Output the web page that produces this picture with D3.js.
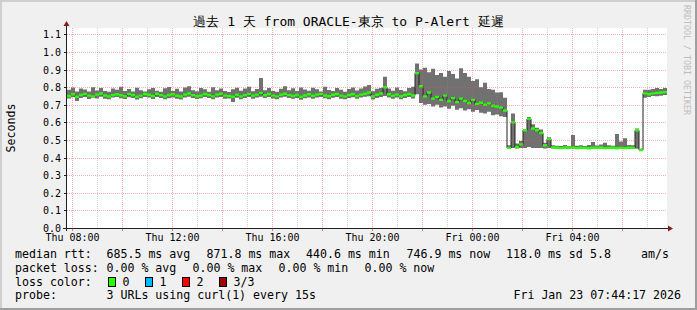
<!DOCTYPE html>
<html>
<head>
<meta charset="utf-8">
<script src="https://cdn.jsdelivr.net/npm/d3@7"></script>
<style>
  body { margin: 0; background: #fff; }
  svg { display: block; }
  text { font-family: "DejaVu Sans Mono", monospace; fill: #000; }
</style>
</head>
<body>
<div id="chart"></div>
<script>
// one value every 9.6 min, 150 columns over the 24 h window (ms)
const medianMs = [
  750,760,746,756,762,752,748,758,764,753,
  747,755,760,754,749,762,756,746,752,761,
  757,750,763,755,748,756,760,751,747,758,
  764,755,749,753,761,756,748,758,763,752,
  750,746,757,748,755,762,751,758,768,754,
  761,752,748,757,763,755,750,756,746,753,
  760,751,758,762,753,749,757,761,752,748,
  756,760,750,758,763,770,747,757,764,800,
  760,751,758,749,756,761,753,880,805,748,
  770,735,745,728,752,722,738,715,735,722,
  710,728,705,712,700,708,695,690,684,668,
  455,600,460,475,555,620,565,555,540,470,
  505,458,456,454,457,455,458,454,456,455,
  453,456,455,457,454,455,456,453,455,454,
  456,455,555,443,765,760,765,768,770,772
];
const maxMs = [
  785,798,776,793,787,775,800,781,795,778,
  774,792,786,803,779,790,776,797,783,775,
  789,796,780,774,794,801,779,791,776,799,
  805,783,777,795,788,774,800,782,793,779,
  773,788,797,780,792,803,777,790,852,783,
  795,779,774,791,806,782,794,778,799,787,
  780,797,788,776,802,784,778,795,786,774,
  790,799,781,793,804,812,777,791,796,860,
  793,780,798,784,777,795,803,935,900,910,
  885,905,870,880,860,892,875,850,908,880,
  860,835,845,800,825,790,785,770,772,740,
  470,650,480,495,560,630,590,570,560,485,
  515,470,468,466,472,465,528,468,470,466,
  472,488,469,474,485,470,468,534,492,510,
  472,470,565,450,785,785,790,795,790,795
];
const minMs = [
  736,743,722,738,745,733,740,736,746,735,
  731,741,744,737,733,743,738,730,737,744,
  741,733,745,738,731,737,742,735,730,741,
  746,738,733,737,744,739,731,741,745,735,
  736,716,740,732,739,745,734,742,746,738,
  744,736,731,741,746,738,735,739,729,737,
  742,734,741,745,737,732,740,744,735,731,
  739,743,734,741,746,748,730,739,744,750,
  742,734,741,732,739,744,736,760,710,700,
  705,690,700,685,690,678,695,672,680,668,
  675,660,670,655,650,660,640,645,635,630,
  450,455,452,455,455,460,455,455,455,452,
  455,452,451,450,452,451,452,450,451,452,
  450,452,451,452,450,451,452,450,451,450,
  452,451,450,437,740,745,750,748,752,755
];
const yTicks = [0,0.1,0.2,0.3,0.4,0.5,0.6,0.7,0.8,0.9,1.0,1.1];

const lossLabels = ["0", "1", "2", "3/3"];
const lossColors = ["#26ff00", "#00b8ff", "#ff0000", "#a00000"];

const titleText = "過去 1 天 from ORACLE-東京 to P-Alert 延遲";

const width = 697, height = 310;
const plot = { left: 67, right: 667, top: 28, bottom: 228 };

const start = new Date(2026, 0, 22, 7, 47, 17);
const end = new Date(2026, 0, 23, 7, 47, 17);
const stepMs = (end - start) / medianMs.length;

const data = medianMs.map((m, i) => ({
  t: new Date(+start + i * stepMs), med: m / 1000, lo: minMs[i] / 1000, hi: maxMs[i] / 1000
}));
// close the last step
data.push({ ...data[data.length - 1], t: end });

const x = d3.scaleTime().domain([start, end]).range([plot.left, plot.right]);
const y = d3.scaleLinear().domain([0, 200 / 176]).range([plot.bottom, plot.top]);

const svg = d3.select("#chart").append("svg")
  .attr("width", width).attr("height", height);

// background + frame
svg.append("rect").attr("width", width).attr("height", height).attr("fill", "#f0f0f0");
svg.append("path").attr("d", `M0,${height} V0 H${width}`).attr("fill", "none")
  .attr("stroke", "#cfcfcf").attr("stroke-width", 4);
svg.append("path").attr("d", `M0,${height} H${width} V0`).attr("fill", "none")
  .attr("stroke", "#9e9e9e").attr("stroke-width", 4);

svg.append("rect")
  .attr("x", plot.left).attr("y", plot.top)
  .attr("width", plot.right - plot.left).attr("height", plot.bottom - plot.top)
  .attr("fill", "#fff");

// smoke (min..max)
svg.append("path").datum(data)
  .attr("d", d3.area().curve(d3.curveStepAfter)
    .x(d => x(d.t)).y0(d => y(d.lo)).y1(d => y(d.hi)))
  .attr("fill", "#717171");

// median line
svg.append("path").datum(data)
  .attr("d", d3.line().curve(d3.curveStepAfter).x(d => x(d.t)).y(d => y(d.med)))
  .attr("fill", "none").attr("stroke", "#202020").attr("stroke-width", 1);

// median coloured by loss (all 0 here)
svg.append("path").datum(data)
  .attr("d", d3.area().curve(d3.curveStepAfter)
    .x(d => x(d.t)).y0(d => y(d.med) + 1.2).y1(d => y(d.med) - 1.2))
  .attr("fill", lossColors[0]);

// grid (drawn over the graph, like rrdtool)
const hours = d3.timeHour.range(start, end);
const grid = svg.append("g").attr("stroke-dasharray", "1,1").attr("stroke-width", 1);
hours.forEach(h => {
  const px = Math.round(x(h)) + 0.5;
  grid.append("line")
    .attr("x1", px).attr("x2", px).attr("y1", plot.top).attr("y2", plot.bottom)
    .attr("stroke", h.getHours() % 2 === 0 ? "rgba(230,80,80,0.45)" : "rgba(140,140,140,0.4)");
});
yTicks.forEach(v => {
  if (v === 0) return;
  const py = Math.round(y(v)) + 0.5;
  grid.append("line")
    .attr("x1", plot.left).attr("x2", plot.right).attr("y1", py).attr("y2", py)
    .attr("stroke", "rgba(230,80,80,0.45)");
});

// axes
const axisY = plot.bottom + 0.5, axisX = plot.left - 0.5;
svg.append("line").attr("x1", plot.left - 4).attr("x2", plot.right + 3)
  .attr("y1", axisY).attr("y2", axisY).attr("stroke", "#202020");
svg.append("line").attr("x1", axisX).attr("x2", axisX)
  .attr("y1", plot.bottom + 3).attr("y2", plot.top - 4).attr("stroke", "#202020");
svg.append("path").attr("d", `M${axisX - 3},26 L${axisX + 3},26 L${axisX},21 Z`).attr("fill", "#7f1f1f");
svg.append("path").attr("d", `M668,${axisY - 3} L668,${axisY + 3} L673,${axisY} Z`).attr("fill", "#7f1f1f");

// ticks
hours.filter(h => h.getHours() % 2 === 0).forEach(h => {
  const px = Math.round(x(h)) + 0.5;
  svg.append("line").attr("x1", px).attr("x2", px)
    .attr("y1", plot.bottom + 1).attr("y2", plot.bottom + 3).attr("stroke", "rgba(230,80,80,0.7)");
});
yTicks.forEach(v => {
  const py = Math.round(y(v)) + 0.5;
  svg.append("line").attr("x1", plot.left - 3).attr("x2", plot.left)
    .attr("y1", py).attr("y2", py).attr("stroke", "#202020");
});

// tick labels
const fmt = d3.timeFormat("%a %H:%M");
svg.append("g").selectAll("text")
  .data(hours.filter(h => h.getHours() % 4 === 0))
  .join("text")
  .attr("x", d => Math.round(x(d)) + 0.5).attr("y", 240.5)
  .attr("text-anchor", "middle").attr("font-size", "10px")
  .text(d => fmt(d));
svg.append("g").selectAll("text")
  .data(yTicks)
  .join("text")
  .attr("x", 61).attr("y", d => Math.round(y(d)) + 3.5)
  .attr("text-anchor", "end").attr("font-size", "10px")
  .text(d => d.toFixed(1));

// title, unit, watermark
svg.append("text").attr("x", 348.5).attr("y", 26)
  .attr("text-anchor", "middle").attr("font-size", "13px").text(titleText);
svg.append("text").attr("transform", "translate(15,128) rotate(-90)")
  .attr("text-anchor", "middle").attr("font-size", "11.6px").text("Seconds");
svg.append("text").attr("transform", "translate(683.5,5) rotate(90)")
  .attr("font-size", "8.3px").style("fill", "#bdbdbd").text("RRDTOOL / TOBI OETIKER");

// legend
const legend = svg.append("g").attr("font-size", "11.6px").attr("xml:space", "preserve");
const legendItems = [
  [15, 258, "median rtt:"], [106.5, 258, "685.5 ms avg"], [206.5, 258, "871.8 ms max"],
  [306, 258, "440.6 ms min"], [406.5, 258, "746.9 ms now"], [506, 258, "118.0 ms sd"],
  [590, 258, "5.8"], [641, 258, "am/s"],
  [15, 271.5, "packet loss:"], [106.5, 271.5, "0.00 % avg"], [192.5, 271.5, "0.00 % max"],
  [278.5, 271.5, "0.00 % min"], [364.5, 271.5, "0.00 % now"],
  [15, 285.5, "loss color:"],
  [15, 299, "probe:"], [106.5, 299, "3 URLs using curl(1) every 15s"]
];
legend.selectAll("text.item").data(legendItems).join("text")
  .attr("class", "item").attr("x", d => d[0]).attr("y", d => d[1]).text(d => d[2]);
legend.append("text").attr("x", 681).attr("y", 299).attr("text-anchor", "end")
  .text("Fri Jan 23 07:44:17 2026");

const swatchX = [108.5, 145.5, 182.5, 219.5];
lossLabels.forEach((lab, i) => {
  legend.append("rect").attr("x", swatchX[i]).attr("y", 277.5)
    .attr("width", 7).attr("height", 9)
    .attr("fill", lossColors[i]).attr("stroke", "#000");
  legend.append("text").attr("x", swatchX[i] + 14).attr("y", 285.5).text(lab);
});
</script>
</body>
</html>
